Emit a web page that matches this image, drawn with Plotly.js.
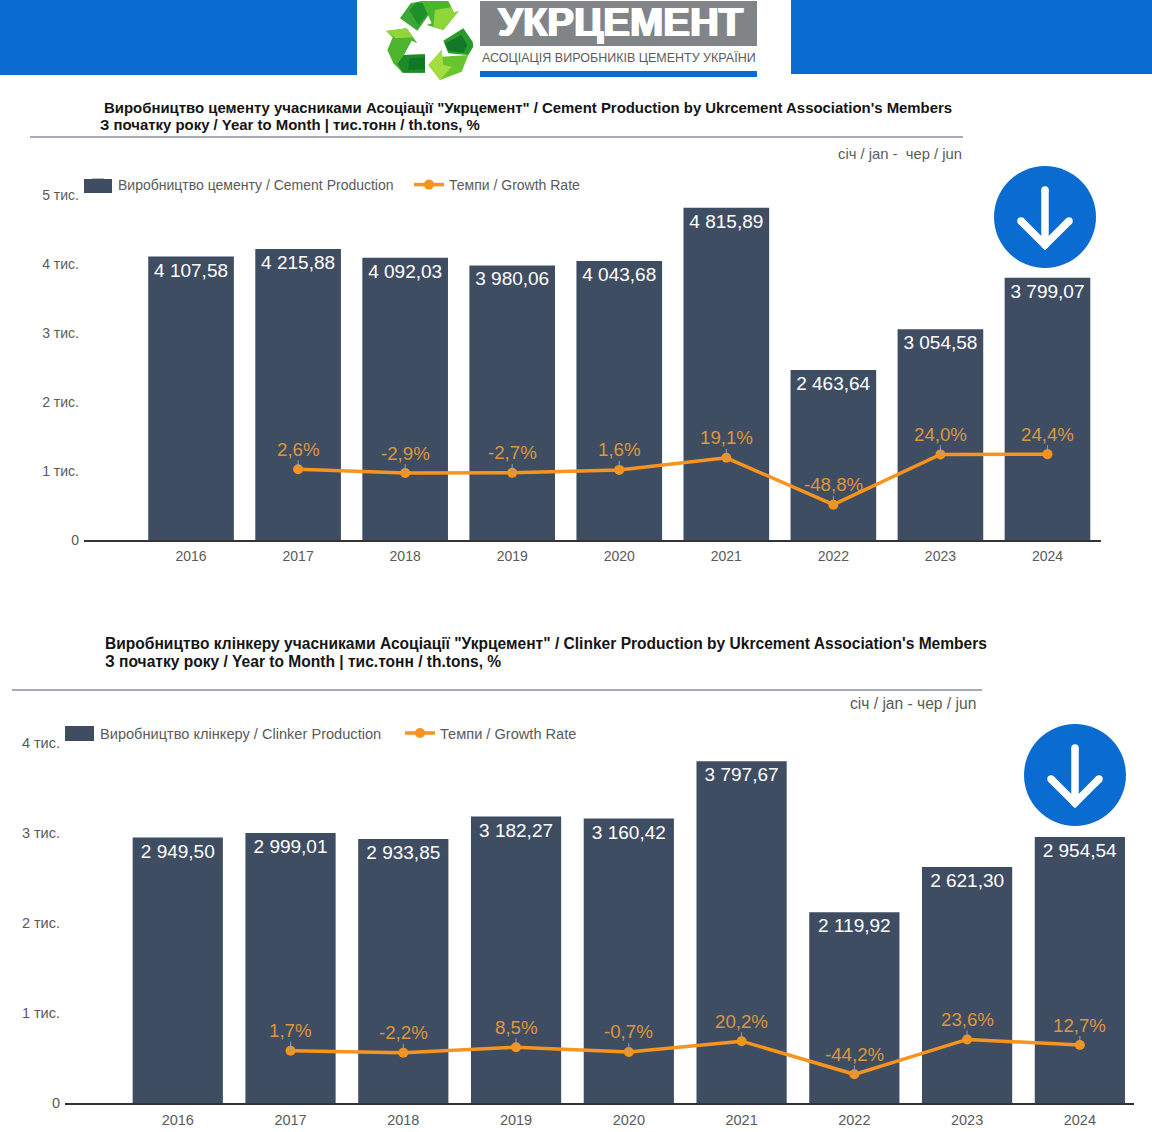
<!DOCTYPE html>
<html><head><meta charset="utf-8">
<script src="https://cdn.plot.ly/plotly-3.0.1.min.js"></script>
<style>html,body{margin:0;padding:0;background:#fff}#c{width:1152px;height:1132px}</style>
</head><body><div id="c"></div>
<script>
const years = ['2016','2017','2018','2019','2020','2021','2022','2023','2024'];
const rateYears = ['2017','2018','2019','2020','2021','2022','2023','2024'];
const cementValues = [4107.58,4215.88,4092.03,3980.06,4043.68,4815.89,2463.64,3054.58,3799.07];
const cementRates = [2.6,-2.9,-2.7,1.6,19.1,-48.8,24.0,24.4];
const clinkerValues = [2949.50,2999.01,2933.85,3182.27,3160.42,3797.67,2119.92,2621.30,2954.54];
const clinkerRates = [1.7,-2.2,8.5,-0.7,20.2,-44.2,23.6,12.7];
const cementTicks = [0,1000,2000,3000,4000,5000];
const clinkerTicks = [0,1000,2000,3000,4000];
const tickText = ['0','1 тис.','2 тис.','3 тис.','4 тис.','5 тис.'];

const W=1152,H=1132, FONT='"Liberation Sans",Arial,sans-serif';
const BAR='#3f4d63', ORANGE='#f7941d', LABEL='#dd963a', GREY='#5a5a5a', BLUE='#0a6bd0';
const px=x=>x/W, py=y=>1-y/H;
const fmtV=v=>{const s=v.toFixed(2).split('.');return s[0].replace(/\B(?=(\d{3})+$)/g,' ')+','+s[1];};
const fmtR=v=>v.toFixed(1).replace('.',',')+'%';

function barTrace(vals,name,xa,ya,leg){return {type:'bar',x:years,y:vals,name:name,xaxis:xa,yaxis:ya,legend:leg,
  marker:{color:BAR},text:vals.map(fmtV),textposition:'inside',insidetextanchor:'end',textangle:0,constraintext:'none',
  insidetextfont:{family:FONT,size:19,color:'#ffffff'},hoverinfo:'x+y'};}
function lineTrace(vals,xa,ya,leg){return {type:'scatter',mode:'lines+markers',x:rateYears,y:vals,name:'Темпи / Growth Rate',
  xaxis:xa,yaxis:ya,legend:leg,line:{color:ORANGE,width:3.5},marker:{color:ORANGE,size:10}};}
const data=[
  barTrace(cementValues,'Виробництво цементу / Cement Production','x','y','legend'),
  lineTrace(cementRates,'x','y2','legend'),
  barTrace(clinkerValues,'Виробництво клінкеру / Clinker Production','x2','y3','legend2'),
  lineTrace(clinkerRates,'x2','y4','legend2')
];

function rateAnn(xs,vals,xr,yr){return xs.map((x,i)=>({x:years.indexOf(x),y:vals[i],xref:xr,yref:yr,text:fmtR(vals[i]),showarrow:true,arrowhead:0,
  arrowwidth:1,arrowcolor:'#93a0b0',ax:0,ay:-20,borderpad:0,font:{family:FONT,size:18.7,color:LABEL}}));}
function txt(x,y,t,o){return Object.assign({xref:'paper',yref:'paper',x:px(x),y:py(y),text:t,showarrow:false,xanchor:'left',yanchor:'middle',
  font:{family:FONT,size:14,color:'#111'}},o||{});}
const boldT=(x,y,t,s)=>txt(x-2,y-1,'<b>'+t+'</b>',{font:{family:FONT,size:s,color:'#151515'}});

const annotations=[
  ...rateAnn(rateYears,cementRates,'x','y2'),
  ...rateAnn(rateYears,clinkerRates,'x2','y4'),
  boldT(104,108,'Виробництво цементу учасниками Асоціації "Укрцемент" / Cement Production by Ukrcement Association\'s Members',14.93),
  boldT(100,125,'З початку року / Year to Month | тис.тонн / th.tons, %',14.93),
  boldT(105,644,'Виробництво клінкеру учасниками Асоціації "Укрцемент" / Clinker Production by Ukrcement Association\'s Members',15.57),
  boldT(105,662,'З початку року / Year to Month | тис.тонн / th.tons, %',15.57),
  txt(964,154,'січ / jan -  чер / jun',{xanchor:'right',font:{family:FONT,size:14.8,color:GREY}}),
  txt(978,703,'січ / jan - чер / jun',{xanchor:'right',font:{family:FONT,size:15.6,color:GREY}}),
  txt(620,22,'<b>УКРЦЕМЕНТ</b>',{xanchor:'center',font:{family:FONT,size:40,color:'#ffffff',shadow:'1px 0 0 #fff,-1px 0 0 #fff'}}),
  txt(619,58,'АСОЦІАЦІЯ ВИРОБНИКІВ ЦЕМЕНТУ УКРАЇНИ',{xanchor:'center',font:{family:FONT,size:12.5,color:'#5c5c5c'}})
];

function rect(x0,y0,x1,y1,c){return {type:'rect',xref:'paper',yref:'paper',x0:px(x0),x1:px(x1),y0:py(y0),y1:py(y1),fillcolor:c,line:{width:0},layer:'below'};}
function hline(x0,x1,y,c){return {type:'line',xref:'paper',yref:'paper',x0:px(x0),x1:px(x1),y0:py(y),y1:py(y),line:{color:c,width:1.5},layer:'below'};}
function circ(cx,cy,r,c){return {type:'circle',xref:'paper',yref:'paper',x0:px(cx-r),x1:px(cx+r),y0:py(cy-r),y1:py(cy+r),fillcolor:c,line:{width:0},layer:'above'};}
function path(pts,fill,stroke,w,closed){const d=pts.map((p,i)=>(i?'L':'M')+px(p[0]).toFixed(5)+','+py(p[1]).toFixed(5)).join(' ')+(closed?' Z':'');
  return {type:'path',xref:'paper',yref:'paper',path:d,fillcolor:fill||'rgba(0,0,0,0)',line:{color:stroke||'rgba(0,0,0,0)',width:w||0},layer:'above'};}
function downArrow(cx,cy,y0,y1,dx,dy){const w=7.5,r=w/2;return [
  circ(cx,cy,51,BLUE),
  path([[cx,y0],[cx,y1]],null,'#fff',w,false),
  path([[cx-dx,y1-dy],[cx,y1],[cx+dx,y1-dy]],null,'#fff',w,false),
  circ(cx,y0,r,'#fff'),circ(cx-dx,y1-dy,r,'#fff'),circ(cx+dx,y1-dy,r,'#fff'),circ(cx,y1,r,'#fff')];}
const L=(x,y)=>[380+x/3,y/3];
const logoPath=(a,f)=>path(a.map(p=>L(p[0],p[1])),f,null,0,true);
const shapes=[
  rect(0,0,357,75,BLUE),rect(791,0,1152,74,BLUE),
  rect(480,1,757,46,'#808487'),rect(480,71,757,77,BLUE),
  hline(30,963,137,'#8b8ea3'),hline(12,982,690,'#8b8ea3'),
  rect(84,179,112,193,BAR),rect(65,726,94,741,BAR),
  // top arrow
  logoPath([[60,55],[92,10],[125,3],[150,40],[112,92]],'#3aa832'),
  logoPath([[88,30],[110,8],[130,10],[145,40],[115,75]],'#1f8f2c'),
  logoPath([[125,3],[205,3],[222,38],[236,33],[190,90],[140,75],[155,70]],'#4cb52e'),
  logoPath([[165,30],[212,22],[222,38],[236,33],[190,90],[160,80]],'#8fd63a'),
  // left arrow
  logoPath([[18,93],[80,85],[112,130],[95,122],[72,165],[135,163],[135,218],[68,218],[40,190],[22,150],[38,112]],'#4db52e'),
  logoPath([[72,165],[135,163],[135,218],[68,218],[52,192]],'#1f8a2a'),
  logoPath([[88,175],[135,172],[135,208],[85,210]],'#0f7a25'),
  logoPath([[18,93],[80,85],[100,112],[48,115]],'#8fd63a'),
  // right arrow
  logoPath([[190,122],[250,85],[278,125],[280,140],[265,165],[205,160]],'#2a9a2d'),
  logoPath([[195,130],[245,105],[262,135],[250,158],[205,152]],'#127a26'),
  logoPath([[265,165],[245,215],[180,240],[145,195],[185,150],[185,170]],'#66c530'),
  logoPath([[215,200],[180,240],[145,195],[185,150],[190,195]],'#a3dd3f'),
  ...downArrow(1045,217,190,245,24,24),
  ...downArrow(1075,775,748,803,24,24)
];

const xBase={type:'category',categoryorder:'array',categoryarray:years,showgrid:false,zeroline:false,showline:true,linecolor:'#333',linewidth:1.5,
  ticks:'',fixedrange:true};
const yBase={showgrid:false,zeroline:false,showline:false,ticks:'',fixedrange:true};
const legBase={orientation:'h',xanchor:'left',yanchor:'middle',bgcolor:'rgba(0,0,0,0)',itemwidth:30,entrywidthmode:'pixels',itemclick:false,itemdoubleclick:false};
const hiddenY={visible:true,showticklabels:false,showline:false,showgrid:false,zeroline:false,ticks:'',fixedrange:true};

const layout={width:W,height:H,margin:{l:0,r:0,t:0,b:0,pad:0},paper_bgcolor:'#fff',plot_bgcolor:'rgba(0,0,0,0)',
  font:{family:FONT},barmode:'overlay',bargap:0.2,hovermode:'closest',
  xaxis:Object.assign({},xBase,{domain:[px(84),px(1101)],range:[-1,8.5],anchor:'y',tickfont:{family:FONT,size:14,color:GREY},ticklabelstandoff:2}),
  yaxis:Object.assign({},yBase,{domain:[py(540),py(195)],range:[0,5000],tickvals:cementTicks,ticktext:tickText.slice(0,6),anchor:'x',tickfont:{family:FONT,size:14,color:GREY},ticklabelstandoff:4}),
  yaxis2:Object.assign({},hiddenY,{domain:[py(540),py(195)],range:[-100,400],overlaying:'y',anchor:'x'}),
  xaxis2:Object.assign({},xBase,{domain:[px(65),px(1134)],range:[-1,8.48],anchor:'y3',tickfont:{family:FONT,size:14.5,color:GREY},ticklabelstandoff:3}),
  yaxis3:Object.assign({},yBase,{domain:[py(1103),py(743)],range:[0,4000],tickvals:clinkerTicks,ticktext:tickText.slice(0,5),anchor:'x2',tickfont:{family:FONT,size:14.5,color:GREY},ticklabelstandoff:4}),
  yaxis4:Object.assign({},hiddenY,{domain:[py(1103),py(743)],range:[-100,600],overlaying:'y3',anchor:'x2'}),
  legend:Object.assign({},legBase,{x:px(78),y:py(185),entrywidth:286,font:{family:FONT,size:14,color:GREY}}),
  legend2:Object.assign({},legBase,{x:px(60),y:py(733),entrywidth:295,font:{family:FONT,size:14.6,color:GREY}}),
  shapes:shapes,annotations:annotations,showlegend:true};
Plotly.newPlot('c',data,layout,{displayModeBar:false,responsive:false});
</script></body></html>
